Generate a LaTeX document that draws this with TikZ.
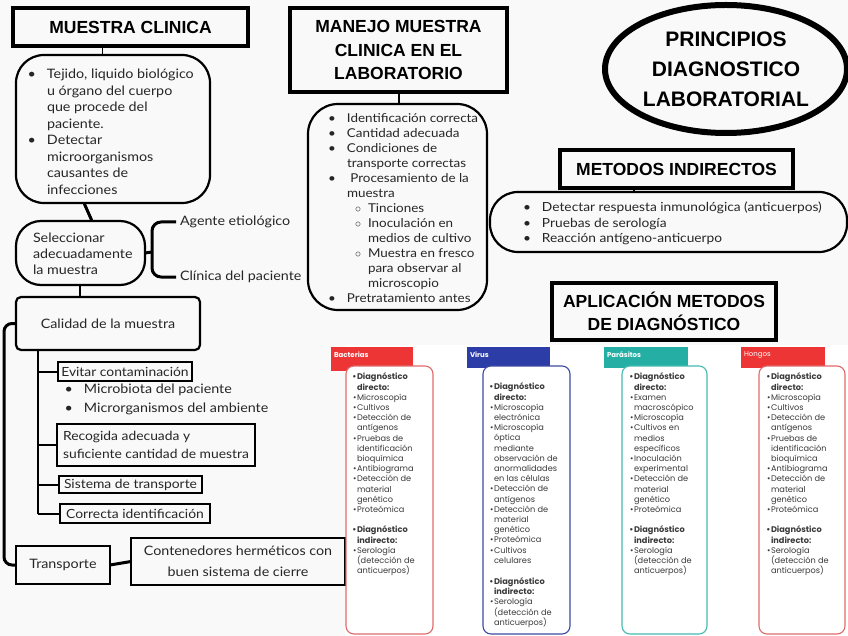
\documentclass[tikz,border=0pt]{standalone}
\usepackage{fontspec}
\setmainfont{Lato}[FakeStretch=1.1]
\newfontfamily\headfont{Liberation Sans}
\newfontfamily\cardfont{Poppins}
\usetikzlibrary{shapes.geometric}
\definecolor{bg}{HTML}{F9F9F9}
\definecolor{ink}{HTML}{262626}
\definecolor{cink}{HTML}{3A3A3A}
\definecolor{bacred}{HTML}{EE3535}
\definecolor{bacline}{HTML}{E06A6A}
\definecolor{virblue}{HTML}{2D3DA8}
\definecolor{virline}{HTML}{3C4AA2}
\definecolor{parteal}{HTML}{25AFA4}
\definecolor{parline}{HTML}{45BBB2}
\newcommand\bl{\llap{\textbullet\hspace{11pt}}}
\newcommand\sbl{\llap{$\circ$\hspace{7pt}}}
\newcommand\cbl{\llap{\textbullet\hspace{0.6pt}}}
\begin{document}
\begin{tikzpicture}[x=1pt,y=-1pt,
  every node/.style={inner sep=0pt, outer sep=0pt},
  hbox/.style={draw, line width=3.6pt, font=\headfont\bfseries\fontsize{17.5}{23.5}\selectfont, align=center},
  rbox/.style={draw, line width=2.2pt, rounded corners=#1},
  tbox/.style={draw, line width=1.2pt, font=\fontsize{12.6}{18}\selectfont, text=ink, align=left},
  txt/.style={font=\fontsize{13}{16.5}\selectfont, text=ink, align=left, anchor=north west},
  ctxt/.style={font=\cardfont\fontsize{8.2}{10.2}\selectfont, text=cink, align=left, anchor=north west},
  tab/.style={fill=#1, draw=none},
  card/.style={draw=#1, line width=1.1pt, fill=white, rounded corners=8pt},
  tablabel/.style={font=\cardfont\bfseries\fontsize{7}{8}\selectfont, text=white, anchor=west},
  conn/.style={line width=#1, draw=black}
]
\fill[bg] (0,0) rectangle (848,636);
\useasboundingbox (0,0) rectangle (848,636);
\fill[white] (345,345) rectangle (848,636);

% ---------- left column ----------
\node[hbox, minimum width=235, minimum height=38] (mc) at (130.5,27) {MUESTRA CLINICA};
\node[rbox=28pt, minimum width=194, minimum height=148] (box1) at (113,129) {};
\node[txt] (box1t) at (47,69) {\bl Tejido, liquido biológico\\u órgano del cuerpo\\que procede del\\paciente.\\\bl Detectar\\microorganismos\\causantes de\\infecciones};
\draw[conn=1pt] (102,0 |- mc.south) -- (102,0 |- box1.north);

\node[rbox=25pt, minimum width=129, minimum height=64] (sel) at (80.5,253) {};
\node[txt, font=\fontsize{13}{16}\selectfont] (selt) at (33,233) {Seleccionar\\adecuadamente\\la muestra};
\draw[conn=3pt] (84,0 |- box1.south) -- (92,0 |- sel.north);

\node[txt, anchor=west] (ag) at (180,222) {Agente etiológico};
\node[txt, anchor=west] (cl) at (180,277) {Clínica del paciente};
\coordinate (bj) at (152,252);
\draw[conn=3pt] (sel.east) -- (bj);
\draw[conn=3pt, rounded corners=9pt] ([xshift=-4pt]ag.west) -| (bj) |- ([xshift=-4pt]cl.west);

\node[rbox=5pt, minimum width=184, minimum height=53, font=\fontsize{13}{16}\selectfont, text=ink] (cal) at (108,323.5) {Calidad de la muestra};
\draw[conn=1.6pt] (80,0 |- sel.south) -- (80,0 |- cal.north);

\node[tbox, minimum width=134, minimum height=19] (ev) at (125,371.5) {Evitar contaminación};
\node[txt, font=\fontsize{13}{19}\selectfont] (evt) at (84,384) {\bl Microbiota del paciente\\\bl Microrganismos del ambiente};
\node[tbox, minimum width=198, minimum height=42] (rec) at (156,445) {Recogida adecuada y\\suficiente cantidad de muestra};
\node[tbox, minimum width=143, minimum height=17] (sis) at (130.5,484.5) {Sistema de transporte};
\node[tbox, minimum width=150, minimum height=19] (cor) at (135,513.5) {Correcta identificación};

\draw[conn=2pt] (38,0 |- cal.south) -- (38,0 |- cor.west);
\draw[conn=2pt] (38,0 |- ev.west) -- (ev.west);
\draw[conn=2pt] (38,0 |- rec.west) -- (rec.west);
\draw[conn=2pt] (38,0 |- sis.west) -- (sis.west);
\draw[conn=2pt] (38,0 |- cor.west) -- (cor.west);

\node[draw, line width=2.5pt, minimum width=94, minimum height=38, font=\fontsize{13}{16}\selectfont, text=ink] (tr) at (63,565) {Transporte};
\draw[conn=3pt, rounded corners=8pt] (cal.west) -| (4,0 |- tr.west) -- (tr.west);

\node[draw, line width=2.5pt, minimum width=214, minimum height=47, font=\fontsize{13}{21}\selectfont, text=ink, align=center] (cont) at (238,561.5) {Contenedores herméticos con\\buen sistema de cierre};
\draw[conn=3pt] (tr.east) -- (cont.west);

% ---------- middle ----------
\node[hbox, minimum width=217, minimum height=84] (mm) at (398.5,50) {MANEJO MUESTRA\\CLINICA EN EL\\LABORATORIO};
\node[rbox=30pt, minimum width=179, minimum height=206] (box2) at (397.5,207) {};
\draw[conn=2pt] (399,0 |- mm.south) -- (399,0 |- box2.north);
\node[txt, font=\fontsize{12.2}{15}\selectfont] (box2t) at (347,113.3) {\bl Identificación correcta\\\bl Cantidad adecuada\\\bl Condiciones de\\transporte correctas\\\bl\ Procesamiento de la\\muestra\\\hspace{21pt}\sbl Tinciones\\\hspace{21pt}\sbl Inoculación en\\\hspace{21pt}medios de cultivo\\\hspace{21pt}\sbl Muestra en fresco\\\hspace{21pt}para observar al\\\hspace{21pt}microscopio\\\bl Pretratamiento antes};

% ---------- right ----------
\node[draw, ellipse, line width=6pt, minimum width=242, minimum height=128, font=\headfont\bfseries\fontsize{21}{30}\selectfont, align=center] (ell) at (726,69) {PRINCIPIOS\\DIAGNOSTICO\\LABORATORIAL};
\node[hbox, minimum width=233, minimum height=38] (mi) at (676.5,169) {METODOS INDIRECTOS};
\node[rbox=28pt, minimum width=357, minimum height=60] (box3) at (668.5,222) {};
\draw[conn=2pt] (634,0 |- mi.south) -- (634,0 |- box3.north);
\node[txt, font=\fontsize{12.5}{15.5}\selectfont] (box3t) at (542,202.3) {\bl Detectar respuesta inmunológica (anticuerpos)\\\bl Pruebas de serología\\\bl Reacción antígeno-anticuerpo};
\node[hbox, minimum width=224, minimum height=57, font=\headfont\bfseries\fontsize{17.5}{23}\selectfont] (ap) at (664,311.5) {APLICACIÓN METODOS\\DE DIAGNÓSTICO};

% ---------- cards ----------
\node[tab=bacred, minimum width=82, minimum height=24] (tb) at (372,359) {};
\node[tab=virblue, minimum width=83, minimum height=21] (tv) at (508.5,357.5) {};
\node[tab=parteal, minimum width=84, minimum height=21] (tp) at (646,357.5) {};
\node[tab=bacred, minimum width=84, minimum height=21] (th) at (783,357.5) {};
\node[tablabel] (tbl) at (334,355) {Bacterias};
\node[tablabel] (tvl) at (470,355) {Virus};
\node[tablabel] (tpl) at (607,355) {Parásitos};
\node[tablabel, font=\cardfont\fontsize{7}{8}\selectfont] (thl) at (744,355) {Hongos};

\node[card=bacline, minimum width=87, minimum height=268] (cb) at (389.5,500) {};
\node[card=virline, minimum width=87, minimum height=268] (cv) at (526.5,500) {};
\node[card=parline, minimum width=85, minimum height=268] (cp) at (664.5,500) {};
\node[card=bacline, minimum width=86, minimum height=268] (ch) at (802,500) {};

\node[ctxt] (cbt) at (357,373) {\textbf{\cbl Diagnóstico}\\\textbf{directo:}\\\cbl Microscopía\\\cbl Cultivos\\\cbl Detección de\\antígenos\\\cbl Pruebas de\\identificación\\bioquímica\\\cbl Antibiograma\\\cbl Detección de\\material\\genético\\\cbl Proteómica\\[10.2pt]\textbf{\cbl Diagnóstico}\\\textbf{indirecto:}\\\cbl Serología\\(detección de\\anticuerpos)};
\node[ctxt] (cvt) at (494,383) {\textbf{\cbl Diagnóstico}\\\textbf{directo:}\\\cbl Microscopía\\electrónica\\\cbl Microscopía\\óptica\\mediante\\observación de\\anormalidades\\en las células\\\cbl Detección de\\antígenos\\\cbl Detección de\\material\\genético\\\cbl Proteómica\\\cbl Cultivos\\celulares\\[11pt]\textbf{\cbl Diagnóstico}\\\textbf{indirecto:}\\\cbl Serología\\(detección de\\anticuerpos)};
\node[ctxt] (cpt) at (634,373) {\textbf{\cbl Diagnóstico}\\\textbf{directo:}\\\cbl Examen\\macroscópico\\\cbl Microscopía\\\cbl Cultivos en\\medios\\específicos\\\cbl Inoculación\\experimental\\\cbl Detección de\\material\\genético\\\cbl Proteómica\\[10.2pt]\textbf{\cbl Diagnóstico}\\\textbf{indirecto:}\\\cbl Serología\\(detección de\\anticuerpos)};
\node[ctxt] (cht) at (771,373) {\textbf{\cbl Diagnóstico}\\\textbf{directo:}\\\cbl Microscopía\\\cbl Cultivos\\\cbl Detección de\\antígenos\\\cbl Pruebas de\\identificación\\bioquímica\\\cbl Antibiograma\\\cbl Detección de\\material\\genético\\\cbl Proteómica\\[10.2pt]\textbf{\cbl Diagnóstico}\\\textbf{indirecto:}\\\cbl Serología\\(detección de\\anticuerpos)};
\end{tikzpicture}
\end{document}
